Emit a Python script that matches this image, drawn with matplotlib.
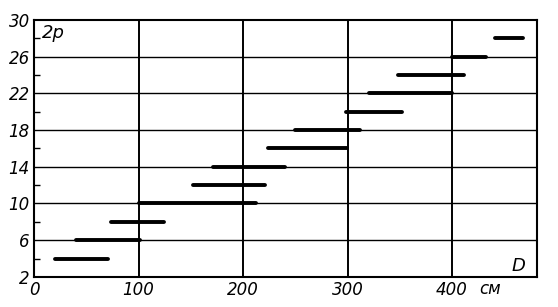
"""Pole number 2p vs. diameter D: ranges of D for each pole count."""
import matplotlib
matplotlib.use("Agg")
import matplotlib.pyplot as plt

# pole numbers and the D range (cm) covered by each
poles = [4, 6, 8, 10, 12, 14, 16, 18, 20, 22, 24, 26, 28]
d_start = [20, 40, 74, 100, 152, 171, 224, 250, 298, 320, 348, 400, 441]
d_end = [71, 101, 124, 212, 221, 240, 299, 312, 352, 400, 411, 432, 468]

x_ticks = [0, 100, 200, 300, 400]
y_ticks = [2, 6, 10, 14, 18, 22, 26, 30]
y_minor = [4, 8, 12, 16, 20, 24, 28]

fig = plt.figure(figsize=(5.58, 3.07), dpi=100)
ax = fig.add_axes([0.061, 0.098, 0.901, 0.837])

ax.hlines(poles, d_start, d_end, colors="black", linewidth=2.8, capstyle="round", zorder=3)

ax.set_xlim(0, 481)
ax.set_ylim(2, 30)
ax.set_xticks(x_ticks)
ax.set_yticks(y_ticks)
ax.set_yticks(y_minor, minor=True)

for x in x_ticks[1:]:
    ax.axvline(x, color="black", linewidth=1.4, zorder=1)
for y in y_ticks[1:-1]:
    ax.axhline(y, color="black", linewidth=1.0, zorder=1)

ax.tick_params(axis="both", which="major", length=0, pad=3)
ax.tick_params(axis="y", which="minor", direction="in", length=4, width=1)
for lbl in ax.get_xticklabels() + ax.get_yticklabels():
    lbl.set_fontstyle("italic")
    lbl.set_fontsize(12)
for sp in ax.spines.values():
    sp.set_linewidth(1.5)

ax.text(8, 28.6, "2p", fontsize=13, fontstyle="italic", va="center", ha="left")
ax.text(470, 3.2, "D", fontsize=13, fontstyle="italic", va="center", ha="right")
ax.text(0.885, -0.012, "см", transform=ax.transAxes, fontsize=12,
        fontstyle="italic", va="top", ha="left")

fig.savefig("out.png", dpi=100)
